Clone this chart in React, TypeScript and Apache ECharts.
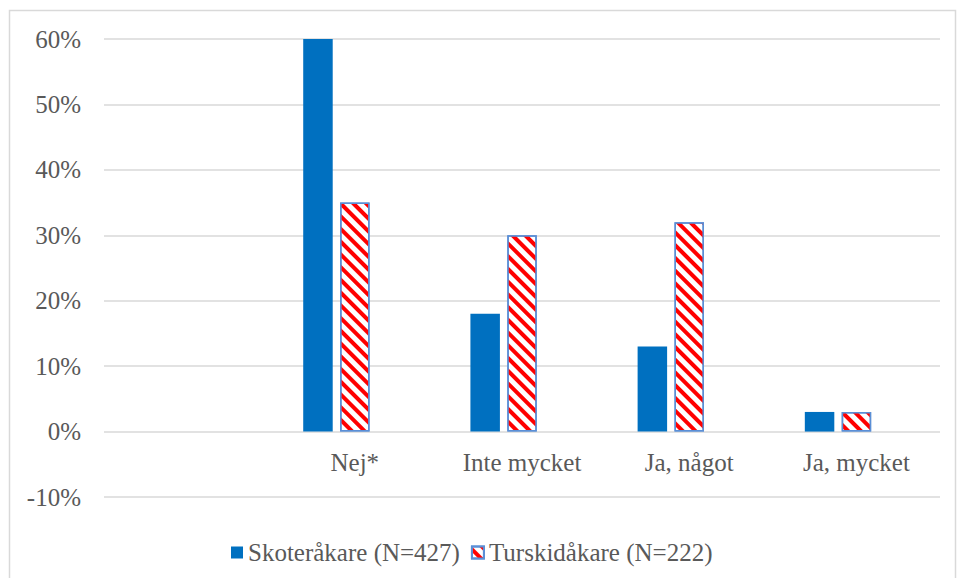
import React, { useEffect, useRef } from "react";
import * as echarts from "echarts";

const categories = ["", "Nej*", "Inte mycket", "Ja, något", "Ja, mycket"];
const skoterValues = [null, 60, 18, 13, 3];
const turskidValues = [null, 35, 30, 32, 3];
const seriesNames = ["Skoteråkare (N=427)", "Turskidåkare (N=222)"];
const yMin = -10;
const yMax = 60;
const yStep = 10;

const FONT = "Liberation Serif";
const TEXT = "#595959";

export default function App() {
  const ref = useRef<HTMLDivElement>(null);
  useEffect(() => {
    if (!ref.current) return;
    const chart = echarts.init(ref.current, null, { renderer: "svg" });
    chart.setOption({
      animation: false,
      backgroundColor: "#ffffff",
      graphic: [
        {
          type: "rect",
          shape: { x: 9.5, y: 10.5, width: 946, height: 620 },
          style: { fill: "none", stroke: "#d9d9d9", lineWidth: 1.5 },
          silent: true,
          z: -1,
        },
      ],
      grid: [
        { left: 85.6, right: 957 - 921.6, top: 39, bottom: 578 - 497 },
        { left: 104, right: 17, top: 39, bottom: 578 - 497 },
      ],
      legend: {
        left: 226,
        top: 535,
        icon: "rect",
        itemWidth: 12,
        itemHeight: 12,
        itemGap: 11,
        textStyle: { fontFamily: FONT, fontSize: 25, color: TEXT },
        data: seriesNames,
      },
      xAxis: [
        {
          type: "category",
          gridIndex: 0,
          data: categories,
          show: false,
        },
        {
          type: "category",
          gridIndex: 1,
          data: categories,
          offset: -65.4,
          axisLine: { show: false, onZero: false },
          axisTick: { show: false },
          axisLabel: { fontFamily: FONT, fontSize: 25, color: TEXT, margin: 18 },
          splitLine: { show: false },
        },
      ],
      yAxis: [
        {
          type: "value",
          gridIndex: 0,
          min: yMin,
          max: yMax,
          interval: yStep,
          show: false,
          splitLine: { show: false },
        },
        {
          type: "value",
          gridIndex: 1,
          min: yMin,
          max: yMax,
          interval: yStep,
          axisLine: { show: false },
          axisTick: { show: false },
          axisLabel: {
            fontFamily: FONT,
            fontSize: 25,
            color: TEXT,
            margin: 23,
            formatter: (v: number) => `${v}%`,
          },
          splitLine: { lineStyle: { color: "#d9d9d9", width: 1.5 } },
        },
      ],
      series: [
        {
          name: seriesNames[0],
          type: "bar",
          xAxisIndex: 0,
          yAxisIndex: 0,
          data: skoterValues,
          barWidth: 29.5,
          barGap: "25%",
          itemStyle: { color: "#0070c0" },
          z: 3,
        },
        {
          name: seriesNames[1],
          type: "bar",
          xAxisIndex: 0,
          yAxisIndex: 0,
          data: turskidValues,
          barWidth: 29.5,
          barGap: "25%",
          itemStyle: {
            color: "#ffffff",
            borderColor: "#5b8fd6",
            borderWidth: 1.5,
            decal: {
              symbol: "rect",
              symbolSize: 1,
              color: "#ff0000",
              dashArrayX: [1, 0],
              dashArrayY: [4, 4.5],
              rotation: Math.PI / 4,
            },
          },
          z: 3,
        },
      ],
    });
    return () => chart.dispose();
  }, []);
  return (
    <div
      ref={ref}
      style={{ position: "absolute", left: 0, top: 0, width: 957, height: 578 }}
    />
  );
}
